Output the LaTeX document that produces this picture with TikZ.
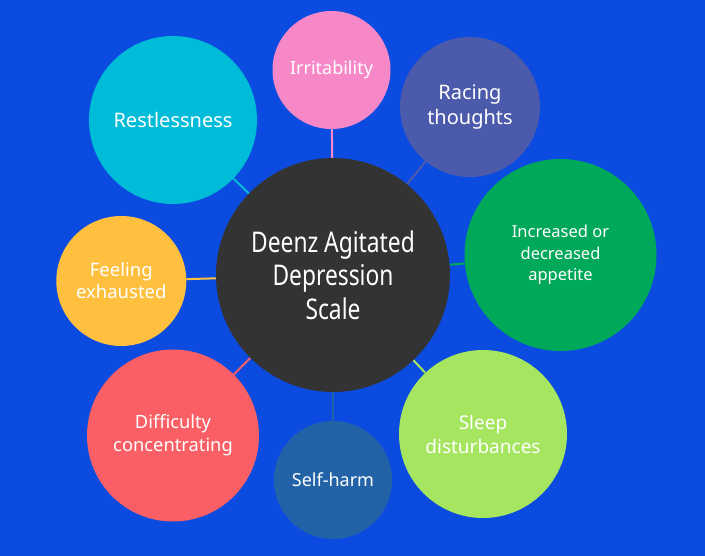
\documentclass[tikz,border=0pt]{standalone}
\usepackage{fontspec}
\setmainfont{Noto Sans}
\newfontfamily\cfont[FakeStretch=0.8]{Noto Sans}
\usetikzlibrary{backgrounds}
\definecolor{bgblue}{HTML}{0C4BE0}
\definecolor{cdark}{HTML}{333333}
\definecolor{cpink}{HTML}{F788C8}
\definecolor{cracing}{HTML}{4C5AAB}
\definecolor{cgreen}{HTML}{00A859}
\definecolor{clight}{HTML}{A5E55F}
\definecolor{cself}{HTML}{2262A6}
\definecolor{cred}{HTML}{F95F64}
\definecolor{cyellow}{HTML}{FFC03F}
\definecolor{ccyan}{HTML}{00BCD8}
\newcommand{\fs}[2]{\fontsize{#1}{#2}\selectfont}
\tikzset{
  bub/.style={circle, fill=#1, inner sep=0pt, text=white, align=center},
  conn/.style={draw=#1, line width=2pt},
}
\begin{document}
\begin{tikzpicture}[x=1pt,y=-1pt]
\useasboundingbox (0,0) rectangle (705,556);
\node[bub=cdark, minimum size=234pt, font=\cfont\fs{28.5}{33.5}] (c) at (333,275) {Deenz Agitated\\Depression\\Scale};
\node[bub=cpink, minimum size=118pt, font=\fs{18}{22}] (irr) at (331.5,70) {Irritability};
\node[bub=cracing, minimum size=140pt, font=\fs{20}{25}] (rac) at (470,107) {Racing\\thoughts};
\node[bub=cgreen, minimum size=192pt, font=\fs{16.5}{21.5}] (app) at (560.5,255) {Increased or\\decreased\\appetite};
\node[bub=clight, minimum size=168pt, font=\fs{19}{24}] (slp) at (483,434) {Sleep\\disturbances};
\node[bub=cself, minimum size=118pt, font=\fs{18}{22}] (self) at (333,480) {Self-harm};
\node[bub=cred, minimum size=172pt, font=\fs{18.3}{23}] (dif) at (173,435.5) {Difficulty\\concentrating};
\node[bub=cyellow, minimum size=130pt, font=\fs{18.5}{22}] (fe) at (121.3,281) {Feeling\\exhausted};
\node[bub=ccyan, minimum size=168pt, font=\fs{20}{24}] (res) at (173,120) {Restlessness};
\begin{scope}[on background layer]
\fill[bgblue] (0,0) rectangle (705,556);
\draw[conn=cpink] (c) -- (irr);
\draw[conn=cracing] (c) -- (rac);
\draw[conn=cgreen] (c) -- (app);
\draw[conn=clight] (c) -- (slp);
\draw[conn=cself] (c) -- (self);
\draw[conn=cred] (c) -- (dif);
\draw[conn=cyellow] (c) -- (fe);
\draw[conn=ccyan] (c) -- (res);
\end{scope}
\end{tikzpicture}
\end{document}
